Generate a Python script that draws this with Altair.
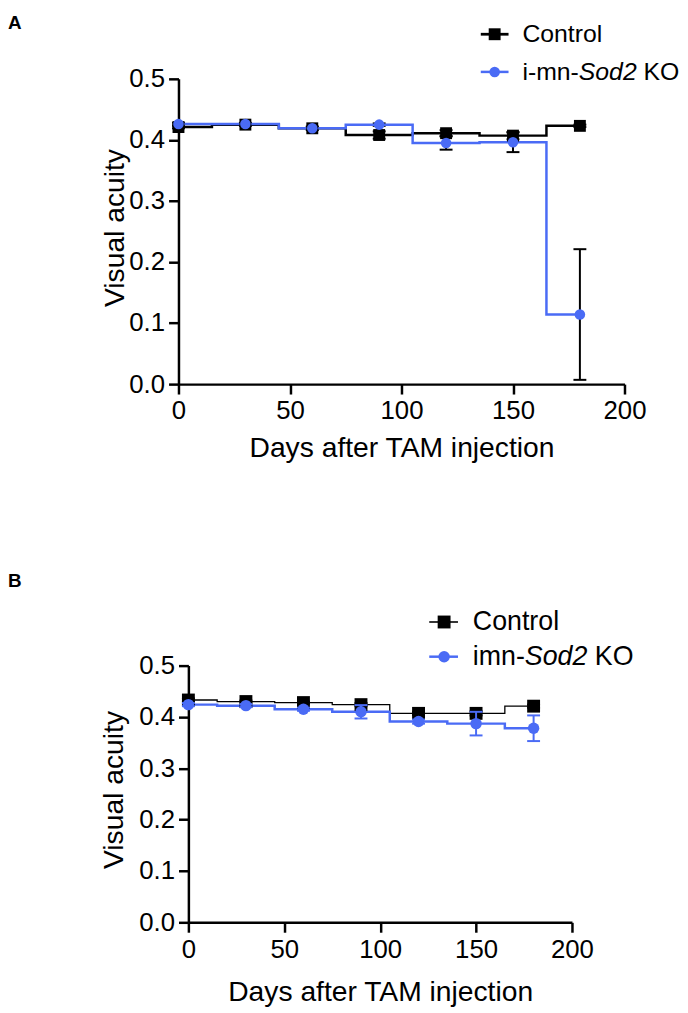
import altair as alt
import pandas as pd

# ---------------- data ----------------
days = [0, 30, 60, 90, 120, 150, 180]

a_ctrl = [0.421, 0.425, 0.419, 0.408, 0.411, 0.407, 0.423]
a_ctrl_err = [0.002, 0.002, 0.003, 0.006, 0.005, 0.006, 0.002]
a_ko = [0.426, 0.426, 0.419, 0.425, 0.395, 0.396, 0.114]
a_ko_err = [0.002, 0.002, 0.002, 0.002, 0.011, 0.016, 0.107]

b_ctrl = [0.433, 0.430, 0.428, 0.424, 0.407, 0.407, 0.421]
b_ctrl_err = [0.003, 0.002, 0.002, 0.003, 0.003, 0.004, 0.003]
b_ko = [0.424, 0.422, 0.415, 0.410, 0.391, 0.387, 0.378]
b_ko_err = [0.003, 0.003, 0.003, 0.013, 0.004, 0.023, 0.025]

x_ticks = [0, 50, 100, 150, 200]
y_ticks = [0.0, 0.1, 0.2, 0.3, 0.4, 0.5]

FONT = "Liberation Sans"
BLACK = "#000000"
BLUE = "#4a6bf5"

one = pd.DataFrame({"k": [0]})


def make_panel(letter, ctrl, ctrl_err, ko, ko_err, ko_prefix, w, h,
               ctrl_lw, ko_err_color, sq_size, ci_size,
               leg_rows, leg_x, leg_font, title_x, title_yy, x_title_y, letter_xy):
    ctrl_df = pd.DataFrame({"day": days, "mean": ctrl, "err": ctrl_err})
    ko_df = pd.DataFrame({"day": days, "mean": ko, "err": ko_err})

    x = alt.X("day:Q", scale=alt.Scale(domain=[0, 200], nice=False),
              axis=alt.Axis(values=x_ticks, title="Days after TAM injection",
                            titleY=x_title_y, titleBaseline="middle",
                            labelFlush=False))
    yscale = alt.Scale(domain=[0, 0.5], nice=False)
    yaxis = alt.Axis(values=y_ticks, format=".1f", title="Visual acuity",
                     titleX=title_x, titleY=title_yy, titleBaseline="middle",
                     titleAlign="center", labelFlush=False)

    def yenc(f):
        return alt.Y(f, scale=yscale, axis=yaxis)

    def err_layers(df, color):
        base = alt.Chart(df).transform_calculate(
            lo="datum.mean - datum.err", hi="datum.mean + datum.err")
        rule = base.mark_rule(color=color, strokeWidth=2).encode(
            x=x, y=yenc("lo:Q"), y2="hi:Q")
        cap_lo = base.mark_tick(orient="horizontal", size=13, thickness=2,
                                color=color, opacity=1).encode(x=x, y=yenc("lo:Q"))
        cap_hi = base.mark_tick(orient="horizontal", size=13, thickness=2,
                                color=color, opacity=1).encode(x=x, y=yenc("hi:Q"))
        return [rule, cap_lo, cap_hi]

    ctrl_line = alt.Chart(ctrl_df).mark_line(
        interpolate="step", color=BLACK, strokeWidth=ctrl_lw).encode(x=x, y=yenc("mean:Q"))
    ko_line = alt.Chart(ko_df).mark_line(
        interpolate="step", color=BLUE, strokeWidth=2.5).encode(x=x, y=yenc("mean:Q"))
    ctrl_pts = alt.Chart(ctrl_df).mark_point(
        shape="square", filled=True, size=sq_size, color=BLACK, opacity=1,
        strokeWidth=0).encode(x=x, y=yenc("mean:Q"))
    ko_pts = alt.Chart(ko_df).mark_point(
        shape="circle", filled=True, size=ci_size, color=BLUE, opacity=1,
        strokeWidth=0).encode(x=x, y=yenc("mean:Q"))

    layers = []
    layers += err_layers(ctrl_df, BLACK)
    if ko_err_color == BLACK:
        layers += err_layers(ko_df, BLACK)
        layers += [ctrl_line, ko_line, ctrl_pts, ko_pts]
    else:
        layers += [ctrl_line, ko_line, ctrl_pts]
        layers += err_layers(ko_df, ko_err_color)
        layers += [ko_pts]

    # legend (drawn manually so that "Sod2" can be italic)
    (r1, r2) = leg_rows
    (lx1, lx2, lxm, ltx) = leg_x
    layers.append(alt.Chart(one).mark_rule(color=BLACK, strokeWidth=ctrl_lw + 0.3).encode(
        x=alt.value(lx1), x2=alt.value(lx2), y=alt.value(r1)))
    layers.append(alt.Chart(one).mark_point(shape="square", filled=True, size=sq_size,
                                            color=BLACK, opacity=1, strokeWidth=0).encode(
        x=alt.value(lxm), y=alt.value(r1)))
    layers.append(alt.Chart(one).mark_rule(color=BLUE, strokeWidth=2.5).encode(
        x=alt.value(lx1), x2=alt.value(lx2), y=alt.value(r2)))
    layers.append(alt.Chart(one).mark_point(shape="circle", filled=True, size=ci_size,
                                            color=BLUE, opacity=1, strokeWidth=0).encode(
        x=alt.value(lxm), y=alt.value(r2)))

    def txt(t, xx, yy, italic=False):
        return alt.Chart(one).mark_text(
            align="left", baseline="middle", font=FONT, fontSize=leg_font,
            color=BLACK, fontStyle="italic" if italic else "normal").encode(
            x=alt.value(xx), y=alt.value(yy), text=alt.value(t))

    pre_w = ko_prefix[1] * leg_font
    sod_w = 2.335 * leg_font
    gap = 0.278 * leg_font
    layers.append(txt("Control", ltx, r1))
    layers.append(txt(ko_prefix[0], ltx, r2))
    layers.append(txt("Sod2", ltx + pre_w, r2, italic=True))
    layers.append(txt("KO", ltx + pre_w + sod_w + gap, r2))

    # panel letter
    layers.append(alt.Chart(one).mark_text(
        align="left", baseline="top", font=FONT, fontSize=19, fontWeight="bold",
        color=BLACK).encode(x=alt.value(letter_xy[0]), y=alt.value(letter_xy[1]),
                            text=alt.value(letter)))

    return alt.layer(*layers).properties(width=w, height=h)


panel_a = make_panel("A", a_ctrl, a_ctrl_err, a_ko, a_ko_err, ("i-mn-", 2.277),
                     450, 308, 2.5, BLACK, 144, 113,
                     (-45, -7), (305, 333, 319, 347), 25,
                     -64, 150, 64, (-172, -65))

panel_b = make_panel("B", b_ctrl, b_ctrl_err, b_ko, b_ko_err, ("imn-", 1.944),
                     387, 259, 1.3, BLUE, 169, 133,
                     (-44, -9), (243, 272, 258, 287), 27,
                     -75, 125, 70, (-182, -94))

spacer = alt.Chart(one).mark_point(opacity=0).encode(
    x=alt.X("k:Q", axis=None), y=alt.Y("k:Q", axis=None)).properties(width=10, height=259)

row_b = alt.hconcat(spacer, panel_b, spacing=0, bounds="flush")

chart = alt.vconcat(panel_a, row_b, spacing=284, bounds="flush",
                    padding={"left": 0, "top": 2, "right": 0, "bottom": 0},
                    autosize=alt.AutoSizeParams(type="pad")).configure_view(
    stroke=None
).configure_axis(
    grid=False, domainColor=BLACK, domainWidth=2.5, tickColor=BLACK, tickWidth=2.5,
    tickSize=10, labelFont=FONT, labelFontSize=26, labelColor=BLACK, labelPadding=4,
    titleFont=FONT, titleFontSize=28.5, titleFontWeight="normal", titleColor=BLACK
)

chart.save("out.html", embed_options={"renderer": "svg", "actions": False})
